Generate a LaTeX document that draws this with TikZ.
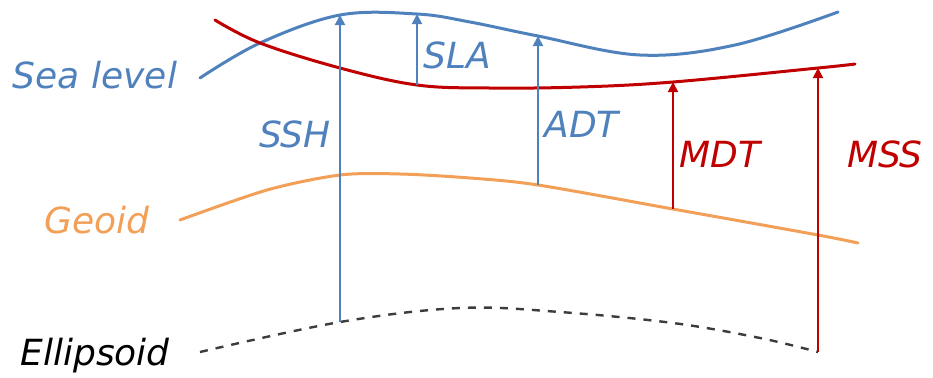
\documentclass[tikz,border=0pt]{standalone}
\usepackage{fontspec}
\setmainfont{DejaVu Sans}
\usetikzlibrary{arrows.meta}
\definecolor{seablue}{RGB}{79,129,189}
\definecolor{mdtred}{RGB}{192,0,0}
\definecolor{geoorange}{RGB}{242,160,88}
\definecolor{ellgray}{RGB}{60,60,60}

\begin{document}
\begin{tikzpicture}[x=0.5pt, y=-0.5pt,
	surface/.style={line width=1.5pt, line cap=round},
	height/.style={line width=1pt, -{Triangle[length=5pt, width=5pt]}},
	lbl/.style={font=\fontsize{18}{20}\selectfont\itshape, inner sep=0pt, anchor=base}]
\useasboundingbox (0,0) rectangle (933,377);

% points where the heights start and end
\coordinate (sshT) at (340,15);
\coordinate (sshB) at (340,322);
\coordinate (slaT) at (417,14);
\coordinate (slaB) at (417,85);
\coordinate (adtT) at (538,36);
\coordinate (adtB) at (538,185);
\coordinate (mdtT) at (673,82);
\coordinate (mdtB) at (673,209);
\coordinate (mssT) at (818,68);
\coordinate (mssB) at (818,352);

% surfaces
\draw[surface, seablue] plot[smooth, tension=0.6] coordinates
	{(200,78) (260,43) (sshT) (slaT) (470,22) (adtT) (640,55) (735,45) (838,12)};
\draw[surface, mdtred] plot[smooth, tension=0.6] coordinates
	{(215,20) (260,43) (340,68) (slaB) (490,88) (580,87) (mdtT) (mssT) (855,64)};
\draw[surface, geoorange] plot[smooth, tension=0.5] coordinates
	{(180,220) (267,190) (340,175) (400,174) (470,178) (adtB) (mdtB) (818,235) (858,243)};
\draw[line width=1.2pt, ellgray, dash pattern=on 4pt off 4pt] plot[smooth, tension=0.6] coordinates
	{(200,352) (sshB) (460,308) (560,312) (673,323) (760,338) (mssB)};

% heights
\draw[height, seablue] (sshB) -- (sshT);
\draw[height, seablue] (slaB) -- (slaT);
\draw[height, seablue] (adtB) -- (adtT);
\draw[height, mdtred] (mdtB) -- (mdtT);
\draw[height, mdtred] (mssB) -- (mssT);

% labels
\node[lbl, text=seablue] (sea) at (95,88) {Sea level};
\node[lbl, text=seablue] (ssh) at (295,147) {SSH};
\node[lbl, text=seablue, anchor=base west] (sla) at (423,68) {SLA};
\node[lbl, text=seablue, anchor=base west] (adt) at (544,137) {ADT};
\node[lbl, text=mdtred, anchor=base west] (mdt) at (679,167) {MDT};
\node[lbl, text=mdtred] (mss) at (885,167) {MSS};
\node[lbl, text=geoorange] (geoid) at (97,233) {Geoid};
\node[lbl, text=black] (ell) at (95,365) {Ellipsoid};
\end{tikzpicture}
\end{document}
